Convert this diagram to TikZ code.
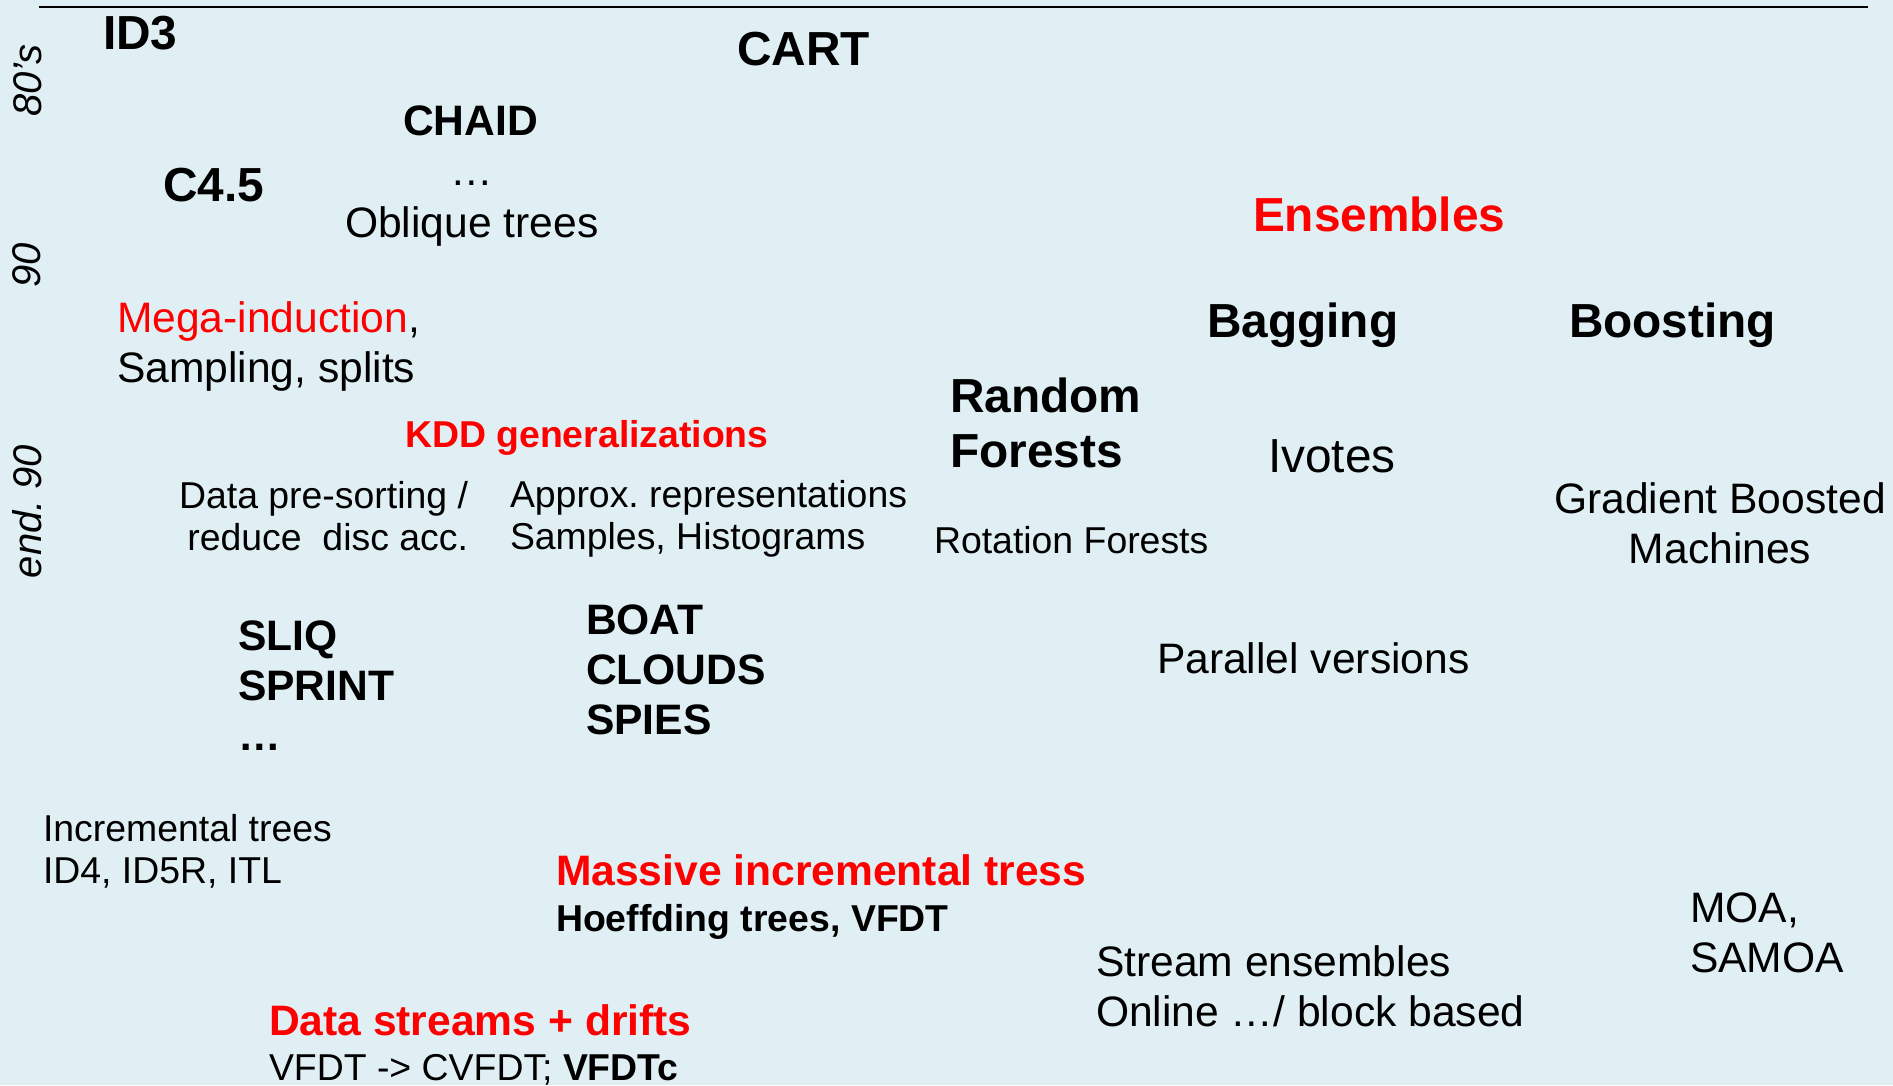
\documentclass[tikz,border=0pt]{standalone}
\usepackage{fontspec}
\setmainfont{Liberation Sans}
\definecolor{bgblue}{RGB}{224,239,243}
\definecolor{hotred}{RGB}{255,0,0}
\frenchspacing
\begin{document}
\begin{tikzpicture}[x=1pt,y=-1pt,
  every node/.style={inner sep=0pt, outer sep=0pt},
  r37/.style={font=\fontsize{37.4}{42}\selectfont},
  r42/.style={font=\fontsize{42.6}{50}\selectfont},
  r47/.style={font=\fontsize{47.8}{55}\selectfont},
  b37/.style={font=\fontsize{37.4}{42}\selectfont\bfseries},
  b42/.style={font=\fontsize{42.6}{50}\selectfont\bfseries},
  b47/.style={font=\fontsize{47.8}{55}\selectfont\bfseries},
  era/.style={font=\fontsize{40}{46}\selectfont\itshape, rotate=90},
  hot/.style={text=hotred}]
% canvas
\fill[bgblue] (0,0) rectangle (1893,1085);
\useasboundingbox (0,0) rectangle (1893,1085);
% time rule along the top
\coordinate (ruleL) at (39,6.5);
\coordinate (ruleR) at (1868,6.5);
\draw[line width=2pt] (ruleL) -- (ruleR);
% era labels on the left margin
\node[era] (e80)  at (27.5,80.5) {80’s};
\node[era] (e90)  at (27,265)    {90};
\node[era] (eend) at (27,511.5)  {end. 90};
% classic tree inducers (multi-line nodes sit on the baseline of their last line)
\node[b47, anchor=base west] (id3)   at (103,49)  {ID3};
\node[b47, anchor=base west] (cart)  at (737,65)  {CART};
\node[b42, anchor=base west] (chaid) at (403,135) {CHAID};
\node[b47, anchor=base west] (c45)   at (163,201) {C4.5};
\node[r42, anchor=base]      (dots1) at (472,185) {…};
\node[r42, anchor=base west] (obl)   at (345,237) {Oblique trees};
\node[r42, anchor=base west, align=left] (mega) at (117,382)
  {\textcolor{hotred}{Mega-induction},\\Sampling, splits};
% scaling to large data
\node[b37, hot, anchor=base west] (kdd) at (405,447) {KDD generalizations};
\node[r37, anchor=base east, align=right] (presort) at (468,550)
  {Data pre-sorting /\\reduce\ \ disc acc.};
\node[r37, anchor=base west, align=left] (approx) at (510,549)
  {Approx. representations\\Samples, Histograms};
\node[b42, anchor=base west, align=left] (sliq) at (238,750) {SLIQ\\SPRINT\\…};
\node[b42, anchor=base west, align=left] (boat) at (586,734) {BOAT\\CLOUDS\\SPIES};
% ensembles
\node[b47, hot, anchor=base west] (ens)   at (1253,231) {Ensembles};
\node[b47, anchor=base west]      (bag)   at (1207,337) {Bagging};
\node[b47, anchor=base west]      (boost) at (1569,337) {Boosting};
\node[b47, anchor=base west, align=left] (rf) at (950,467) {Random\\Forests};
\node[r47, anchor=base west]      (ivotes) at (1268,472) {Ivotes};
\node[r37, anchor=base west]      (rot)   at (934,553) {Rotation Forests};
\node[r42, anchor=base, align=center] (gbm) at (1720,563) {Gradient Boosted\\Machines};
\node[r42, anchor=base west]      (par)   at (1157,673) {Parallel versions};
% incremental and stream learning
\node[r37, anchor=base west, align=left] (incr) at (43,883)
  {Incremental trees\\ID4, ID5R, ITL};
\node[b42, hot, anchor=base west] (massive) at (556,885) {Massive incremental tress};
\node[b37, anchor=base west]      (hoeff)   at (556,931) {Hoeffding trees, VFDT};
\node[r42, anchor=base west, align=left] (moa) at (1690,972) {MOA,\\SAMOA};
\node[r42, anchor=base west, align=left] (stream) at (1096,1026)
  {Stream ensembles\\Online …/ block based};
\node[b42, hot, anchor=base west] (drift) at (269,1035) {Data streams + drifts};
\node[r37, anchor=base west]      (vfdt)  at (269,1080) {VFDT -> CVFDT; \textbf{VFDTc}};
\end{tikzpicture}
\end{document}
